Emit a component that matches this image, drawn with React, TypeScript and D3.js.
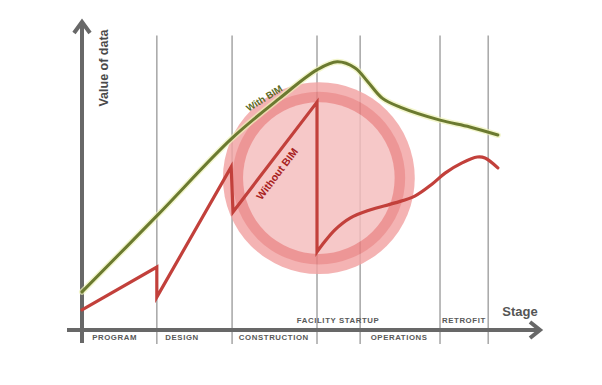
import React from "react";
import * as d3 from "d3";

// Project stages (x in % of the timeline)
const stageBounds = [16.3, 32.7, 51.2, 60.6, 78.0, 88.5];
const stagesBelow = [
  { name: "PROGRAM", at: 7.1 },
  { name: "DESIGN", at: 21.8 },
  { name: "CONSTRUCTION", at: 41.8 },
  { name: "OPERATIONS", at: 69.1 },
];
const stagesAbove = [
  { name: "FACILITY STARTUP", at: 55.8 },
  { name: "RETROFIT", at: 83.2 },
];

// Value of data with BIM
const withBimX = [0, 16.3, 32.7, 43.1, 51.2, 55.6, 59.5, 62.3, 65.4, 69.3, 78.0, 84.5, 90.6];
const withBimY = [12.3, 36.8, 61.9, 74.8, 83.9, 86.5, 84.5, 80.0, 74.8, 71.9, 67.7, 65.5, 62.9];

// Value of data without BIM: information lost at each hand-over
const noBimStepX = [0, 16.3, 16.3, 32.5, 32.9, 51.2, 51.2];
const noBimStepY = [6.5, 20.3, 10.6, 52.6, 38.1, 73.5, 25.2];
const noBimCurveX = [51.2, 52.3, 55.1, 58.4, 62.7, 68.2, 72.5, 76.3, 79.1, 82.8, 86.1, 87.8, 90.6];
const noBimCurveY = [25.2, 27.4, 32.3, 36.1, 38.7, 41.0, 43.2, 47.1, 50.6, 53.9, 55.8, 55.5, 52.3];

// Highlighted loss zone
const lossCenter = { x: 51.6, y: 49.0 };
const lossRadius = 20.9;

const W = 602;
const H = 385;

export default function App() {
  const x = d3.scaleLinear().domain([0, 100]).range([82, 541]);
  const y = d3.scaleLinear().domain([0, 100]).range([330, 20]);

  const greenLine = d3
    .line<number>()
    .x((d) => x(withBimX[d]))
    .y((d) => y(withBimY[d]))
    .curve(d3.curveCatmullRom.alpha(0.5))(withBimX.map((_, i) => i)) as string;

  const redSteps = d3
    .line<number>()
    .x((d) => x(noBimStepX[d]))
    .y((d) => y(noBimStepY[d]))(noBimStepX.map((_, i) => i)) as string;
  const redCurve = d3
    .line<number>()
    .x((d) => x(noBimCurveX[d]))
    .y((d) => y(noBimCurveY[d]))
    .curve(d3.curveCatmullRom.alpha(0.5))(noBimCurveX.map((_, i) => i)) as string;
  const redPath = redSteps + "L" + redCurve.slice(1);

  const cx = x(lossCenter.x);
  const cy = y(lossCenter.y);
  const r = x(lossRadius) - x(0);

  const [x0] = x.range();
  const xEnd = x(100);
  const yBase = y(0);
  const yTop = y(100);
  const gridTop = y(95);
  const gridBottom = yBase + 14;

  const axisColor = "#686868";
  const labelFont = "'Liberation Sans', Arial, sans-serif";

  return (
    <svg
      width={W}
      height={H}
      style={{ position: "absolute", left: 0, top: 0, background: "#fff" }}
      fontFamily={labelFont}
    >
      {/* stage dividers */}
      {stageBounds.map((b) => (
        <line
          key={b}
          x1={x(b)}
          x2={x(b)}
          y1={gridTop}
          y2={gridBottom}
          stroke="#ababab"
          strokeWidth={1.6}
        />
      ))}

      {/* loss zone */}
      <g opacity={0.82}>
        <circle cx={cx} cy={cy} r={r} fill="#f2a3a3" />
        <circle cx={cx} cy={cy} r={r * 0.9} fill="#ea8080" />
        <circle cx={cx} cy={cy} r={r * 0.79} fill="#f5bdbd" />
      </g>

      {/* axes */}
      <line x1={x0 - 15} x2={xEnd - 2} y1={yBase} y2={yBase} stroke={axisColor} strokeWidth={4} />
      <polyline
        points={`${xEnd - 11},${yBase - 8} ${xEnd - 1},${yBase} ${xEnd - 11},${yBase + 8}`}
        fill="none"
        stroke={axisColor}
        strokeWidth={4}
        strokeLinejoin="miter"
      />
      <line x1={x0} x2={x0} y1={gridBottom - 1} y2={yTop + 2} stroke={axisColor} strokeWidth={4} />
      <polyline
        points={`${x0 - 8},${yTop + 13} ${x0},${yTop + 2} ${x0 + 8},${yTop + 13}`}
        fill="none"
        stroke={axisColor}
        strokeWidth={4}
      />

      {/* with BIM */}
      <path d={greenLine} fill="none" stroke="#eef2b8" strokeWidth={6} strokeLinecap="round" opacity={0.7} />
      <path d={greenLine} fill="none" stroke="#6b7a30" strokeWidth={3} strokeLinecap="round" />

      {/* without BIM */}
      <path d={redPath} fill="none" stroke="#c2403b" strokeWidth={3.2} strokeLinejoin="miter" strokeLinecap="round" />

      {/* series labels */}
      <text
        transform={`translate(266,101) rotate(-32)`}
        textAnchor="middle"
        fontSize={9.5}
        fontWeight="bold"
        fill="#5d6a24"
      >
        With BIM
      </text>
      <text
        transform={`translate(280,176) rotate(-53)`}
        textAnchor="middle"
        fontSize={10.5}
        fontWeight="bold"
        fill="#a8211e"
      >
        Without BIM
      </text>

      {/* axis titles */}
      <text
        transform={`translate(108,68) rotate(-90)`}
        textAnchor="middle"
        fontSize={12.5}
        fontWeight="bold"
        fill="#4a4a4a"
      >
        Value of data
      </text>
      <text x={520} y={316} textAnchor="middle" fontSize={13} fontWeight="bold" fill="#555">
        Stage
      </text>

      {/* stage names */}
      {stagesBelow.map((s) => (
        <text
          key={s.name}
          x={x(s.at)}
          y={yBase + 10}
          textAnchor="middle"
          fontSize={7.8}
          fontWeight="bold"
          letterSpacing={0.6}
          fill="#595959"
        >
          {s.name}
        </text>
      ))}
      {stagesAbove.map((s) => (
        <text
          key={s.name}
          x={x(s.at)}
          y={yBase - 7}
          textAnchor="middle"
          fontSize={7.8}
          fontWeight="bold"
          letterSpacing={0.6}
          fill="#595959"
        >
          {s.name}
        </text>
      ))}
    </svg>
  );
}
